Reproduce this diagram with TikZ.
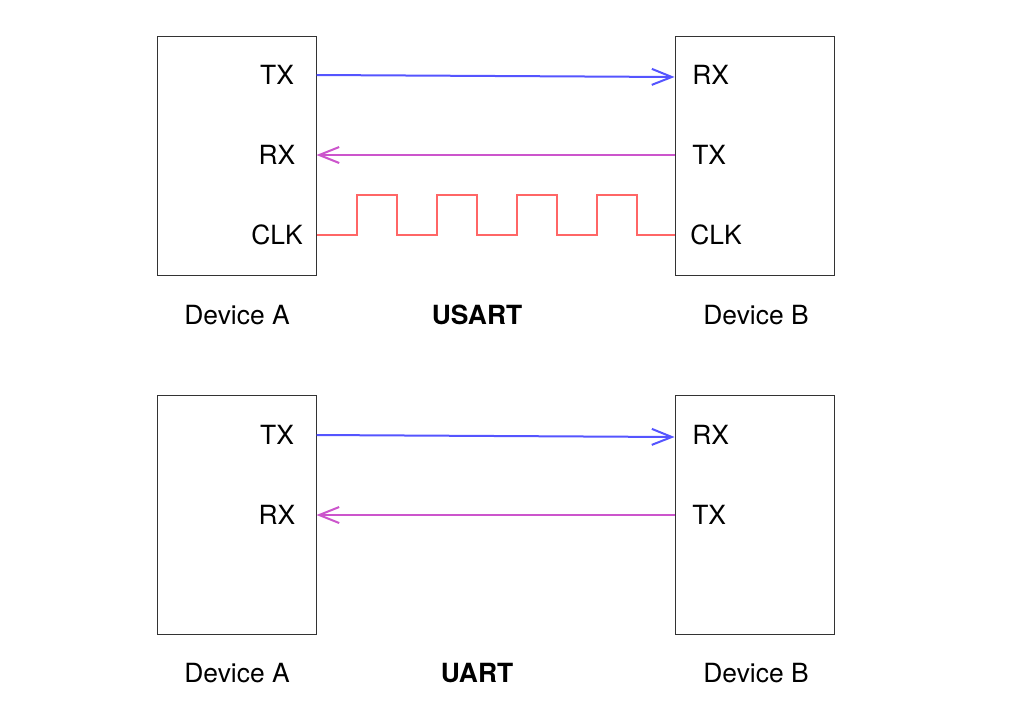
\documentclass[tikz,border=0pt]{standalone}
\usepackage{fontspec}
\setmainfont{TeX Gyre Heros}
\usetikzlibrary{arrows.meta,calc}
\definecolor{txblue}{HTML}{5555FF}
\definecolor{rxmag}{HTML}{CC55CC}
\definecolor{clkred}{HTML}{FF6666}
\definecolor{boxgray}{HTML}{333333}
\begin{document}
\begin{tikzpicture}[x=0.75pt,y=-0.75pt,
  dev/.style={draw=boxgray,line width=0.75pt,minimum width=159*0.75pt,minimum height=239*0.75pt,inner sep=0pt},
  lbl/.style={font=\fontsize{19.8}{23}\selectfont,inner sep=0pt},
  lblL/.style={lbl,anchor=west},
  ttl/.style={lbl,font=\fontsize{19.8}{23}\selectfont\bfseries},
  sig/.style={line width=1.5pt,-{Straight Barb[length=15pt,width=12pt,line width=1.5pt]}},
  clk/.style={line width=1.5pt,clkred,line join=miter}]
\useasboundingbox (0,0) rectangle (1012,700);
% ---- USART ----
\node[dev] (A1) at (236.5,155.5) {};
\node[dev] (B1) at (754.5,155.5) {};
\node[lbl] (A1tx) at (277,75) {TX};
\node[lbl] (A1rx) at (277,155) {RX};
\node[lbl] (A1clk) at (277,235) {CLK};
\node[lblL] (B1rx) at (692,75) {RX};
\node[lblL] (B1tx) at (692,155) {TX};
\node[lblL] (B1clk) at (690,235) {CLK};
\node[lbl] (A1name) at (237,315) {Device A};
\node[ttl] (T1) at (477,315) {USART};
\node[lbl] (B1name) at (756,315) {Device B};
\draw[sig,txblue] (A1.east |- A1tx) -- ([yshift=-1.5pt]B1.west |- B1rx);
\draw[sig,rxmag] (B1.west |- B1tx) -- (A1.east |- A1rx);
\coordinate (c0) at (A1.east |- A1clk);
\coordinate (c1) at (B1.west |- B1clk);
\draw[clk] (c0) -- ++(40,0) -- ++(0,-40) -- ++(40,0) -- ++(0,40)
  -- ++(40,0) -- ++(0,-40) -- ++(40,0) -- ++(0,40)
  -- ++(40,0) -- ++(0,-40) -- ++(40,0) -- ++(0,40)
  -- ++(40,0) -- ++(0,-40) -- ++(40,0) -- ++(0,40) -- (c1);
% ---- UART ----
\node[dev] (A2) at (236.5,514.5) {};
\node[dev] (B2) at (754.5,514.5) {};
\node[lbl] (A2tx) at (277,435) {TX};
\node[lbl] (A2rx) at (277,515) {RX};
\node[lblL] (B2rx) at (692,435) {RX};
\node[lblL] (B2tx) at (692,515) {TX};
\node[lbl] (A2name) at (237,673) {Device A};
\node[ttl] (T2) at (477,673) {UART};
\node[lbl] (B2name) at (756,673) {Device B};
\draw[sig,txblue] (A2.east |- A2tx) -- ([yshift=-1.5pt]B2.west |- B2rx);
\draw[sig,rxmag] (B2.west |- B2tx) -- (A2.east |- A2rx);
\end{tikzpicture}
\end{document}
